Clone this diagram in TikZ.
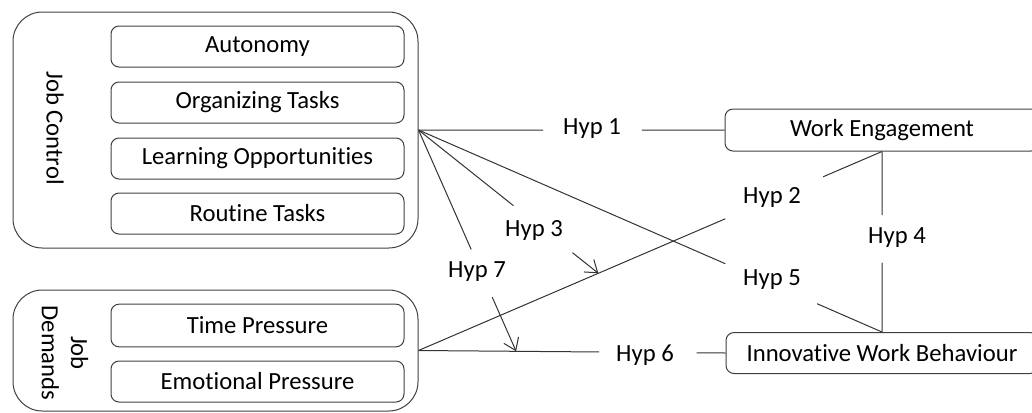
\documentclass[tikz,border=0pt]{standalone}
\usepackage{fontspec}
\setmainfont{Carlito}[Ligatures=NoCommon]
\usetikzlibrary{arrows.meta,calc}
\begin{document}
\begin{tikzpicture}[x=0.75pt,y=-0.75pt,
  outer/.style={draw=black!75, line width=0.75pt, rounded corners=22pt, inner sep=0pt},
  item/.style={draw=black!75, line width=0.75pt, rounded corners=6pt, minimum width=219.75pt, minimum height=30.75pt, inner sep=0pt, font=\fontsize{18.5}{22}\selectfont},
  lab/.style={font=\fontsize{18.5}{22}\selectfont, inner sep=0pt},
  conn/.style={draw=black!80, line width=0.75pt},
  arr/.style={conn, -{Straight Barb[length=8.5pt,width=12pt]}}]
\useasboundingbox (0,0) rectangle (1032,412);
% groups
\node[outer, minimum width=303.75pt, minimum height=177pt] (jc) at (215.5,130) {};
\node[outer, minimum width=303.75pt, minimum height=90.75pt] (jd) at (215.5,350.5) {};
\node[lab, rotate=-90] (jcl) at (55,128) {Job Control};
\node[lab, rotate=-90, align=center, font=\fontsize{18.5}{22}\selectfont] (jdl) at (65,353) {Job\\Demands};
% items
\node[item] (aut) at (257.5,46.5) {Autonomy};
\node[item] (org) at (257.5,102.5) {Organizing Tasks};
\node[item] (lea) at (257.5,158.5) {Learning Opportunities};
\node[item] (rou) at (257.5,213.5) {Routine Tasks};
\node[item, minimum height=32pt] (tim) at (257.5,325.5) {Time Pressure};
\node[item] (emo) at (257.5,381.5) {Emotional Pressure};
% outcomes
\node[item, minimum width=235.5pt, minimum height=31.5pt] (we) at (882,130) {Work Engagement};
\node[item, minimum width=234pt] (iwb) at (882,353) {Innovative Work Behaviour};
% targets of moderation arrows
\coordinate (t3) at ($(jd.east)!0.388!(we.south)$);
\coordinate (t7) at ($(jd.east)!0.318!(iwb.west)$);
% Hyp 1
\draw[conn] (jc.east) -- ($(jc.east)!0.407!(we.west)$);
\draw[conn] ($(jc.east)!0.73!(we.west)$) -- (we.west);
% Hyp 2
\draw[conn] (jd.east) -- ($(jd.east)!0.662!(we.south)$);
\draw[conn] ($(jd.east)!0.873!(we.south)$) -- (we.south);
% Hyp 3
\draw[conn] (jc.east) -- ($(jc.east)!0.528!(t3)$);
\draw[arr] ($(jc.east)!0.856!(t3)$) -- (t3);
% Hyp 4
\draw[conn] (we.south) -- ($(we.south)!0.352!(iwb.north)$);
\draw[conn] ($(we.south)!0.615!(iwb.north)$) -- (iwb.north);
% Hyp 5
\draw[conn] (jc.east) -- ($(jc.east)!0.662!(iwb.north)$);
\draw[conn] ($(jc.east)!0.86!(iwb.north)$) -- (iwb.north);
% Hyp 6
\draw[conn] (jd.east) -- ($(jd.east)!0.588!(iwb.west)$);
\draw[conn] ($(jd.east)!0.906!(iwb.west)$) -- (iwb.west);
% Hyp 7
\draw[conn] (jc.east) -- ($(jc.east)!0.54!(t7)$);
\draw[arr] ($(jc.east)!0.755!(t7)$) -- (t7);
% labels
\node[lab] (l1) at (592,129) {Hyp 1};
\node[lab] (l2) at (772,197) {Hyp 2};
\node[lab] (l3) at (534,230) {Hyp 3};
\node[lab] (l4) at (897,238) {Hyp 4};
\node[lab] (l5) at (772,280) {Hyp 5};
\node[lab] (l6) at (645,355) {Hyp 6};
\node[lab] (l7) at (477,272) {Hyp 7};
\end{tikzpicture}
\end{document}
